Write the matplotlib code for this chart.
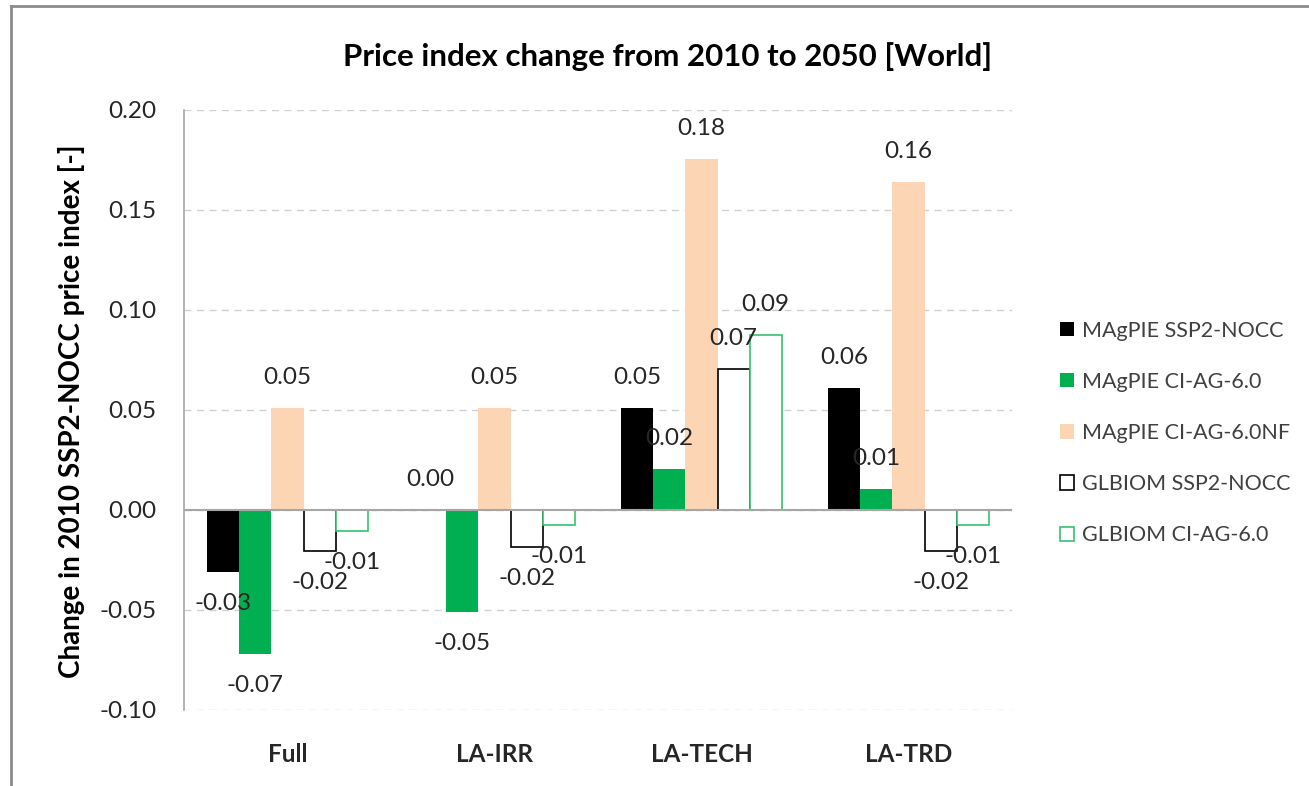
import matplotlib
matplotlib.use("Agg")
import matplotlib.pyplot as plt
from matplotlib.patches import Patch
from matplotlib.lines import Line2D
import numpy as np

plt.rcParams['font.family'] = ['Lato', 'DejaVu Sans']

categories = ["Full", "LA-IRR", "LA-TECH", "LA-TRD"]
series_names = ["MAgPIE SSP2-NOCC", "MAgPIE CI-AG-6.0", "MAgPIE CI-AG-6.0NF",
                "GLBIOM SSP2-NOCC", "GLBIOM CI-AG-6.0"]
magpie_ssp2 = [-0.031, 0.0, 0.051, 0.061]
magpie_ci = [-0.072, -0.051, 0.0205, 0.0105]
magpie_ci_nf = [0.051, 0.051, 0.1755, 0.164]
glbiom_ssp2 = [-0.0205, -0.0185, 0.0705, -0.0205]
glbiom_ci = [-0.0105, -0.0075, 0.0875, -0.0075]
yticks = [-0.10, -0.05, 0.00, 0.05, 0.10, 0.15, 0.20]

series = [magpie_ssp2, magpie_ci, magpie_ci_nf, glbiom_ssp2, glbiom_ci]
faces = ["#000000", "#00B050", "#FCD5B4", "#FFFFFF", "#FFFFFF"]
edges = ["#000000", "#00B050", "#FCD5B4", "#000000", "#33C46E"]
lws = [0, 0, 0, 1.2, 1.2]

fig = plt.figure(figsize=(13.09, 7.86), dpi=100)
W, H = 1309, 786
ax = fig.add_axes([184 / W, 1 - 710 / H, (1012 - 184) / W, (710 - 110) / H])

x = np.arange(len(categories))
bw = 0.155
for i, (vals, fc, ec, lw) in enumerate(zip(series, faces, edges, lws)):
    pos = x + (i - 2) * bw
    ax.bar(pos, vals, width=bw, color=fc, edgecolor=ec, linewidth=lw, zorder=3)
    for p, v in zip(pos, vals):
        off = 22 if v >= 0 else -23
        ax.annotate(f"{v:.2f}", (p, v), xytext=(0, off), textcoords="offset points",
                    ha="center", va="center", fontsize=17.5, color="#262626", zorder=5)

ax.set_xlim(-0.5, 3.5)
ax.set_ylim(-0.10, 0.20)
ax.set_yticks(yticks)
ax.set_yticklabels([f"{t:.2f}" for t in yticks], fontsize=17.5, color="#262626")
ax.set_xticks(x)
ax.set_xticklabels(categories, fontsize=17.5, fontweight="bold", color="#262626")
ax.tick_params(axis="y", length=0, pad=20)
ax.tick_params(axis="x", length=0, pad=24)
ax.grid(axis="y", color="#D0D0D0", linestyle=(0, (5, 4)), linewidth=1.0, zorder=0)
ax.axhline(0, color="#A6A6A6", linewidth=1.5, zorder=4)
for s in ["top", "right", "bottom"]:
    ax.spines[s].set_visible(False)
ax.spines["left"].set_color("#A6A6A6")
ax.spines["left"].set_linewidth(1.2)

fig.text(72 / W, 1 - 411 / H, "Change in 2010 SSP2-NOCC price index [-]", rotation=90,
         ha="center", va="center", fontsize=20, fontweight="bold", color="#000000")

fig.text(668 / W, 1 - 57 / H, "Price index change from 2010 to 2050 [World]",
         ha="center", va="center", fontsize=22.5, fontweight="bold", color="#000000")

handles = [Patch(facecolor=fc, edgecolor=ec, linewidth=(1.2 if lw else 0))
           for fc, ec, lw in zip(faces, edges, lws)]
leg = fig.legend(handles, series_names, loc="center left",
                 bbox_to_anchor=(1041 / W, 1 - 433 / H), frameon=False, fontsize=15.5,
                 handlelength=0.65, handleheight=0.65, handletextpad=0.35,
                 labelspacing=1.45, labelcolor="#404040")

# outer frame (top and left edges)
fig.add_artist(Line2D([11 / W, 11 / W], [0, 1 - 6 / H], transform=fig.transFigure,
                      color="#8C8C8C", linewidth=2))
fig.add_artist(Line2D([11 / W, 1], [1 - 6 / H, 1 - 6 / H], transform=fig.transFigure,
                      color="#8C8C8C", linewidth=2))

fig.savefig("out.png", dpi=100)
